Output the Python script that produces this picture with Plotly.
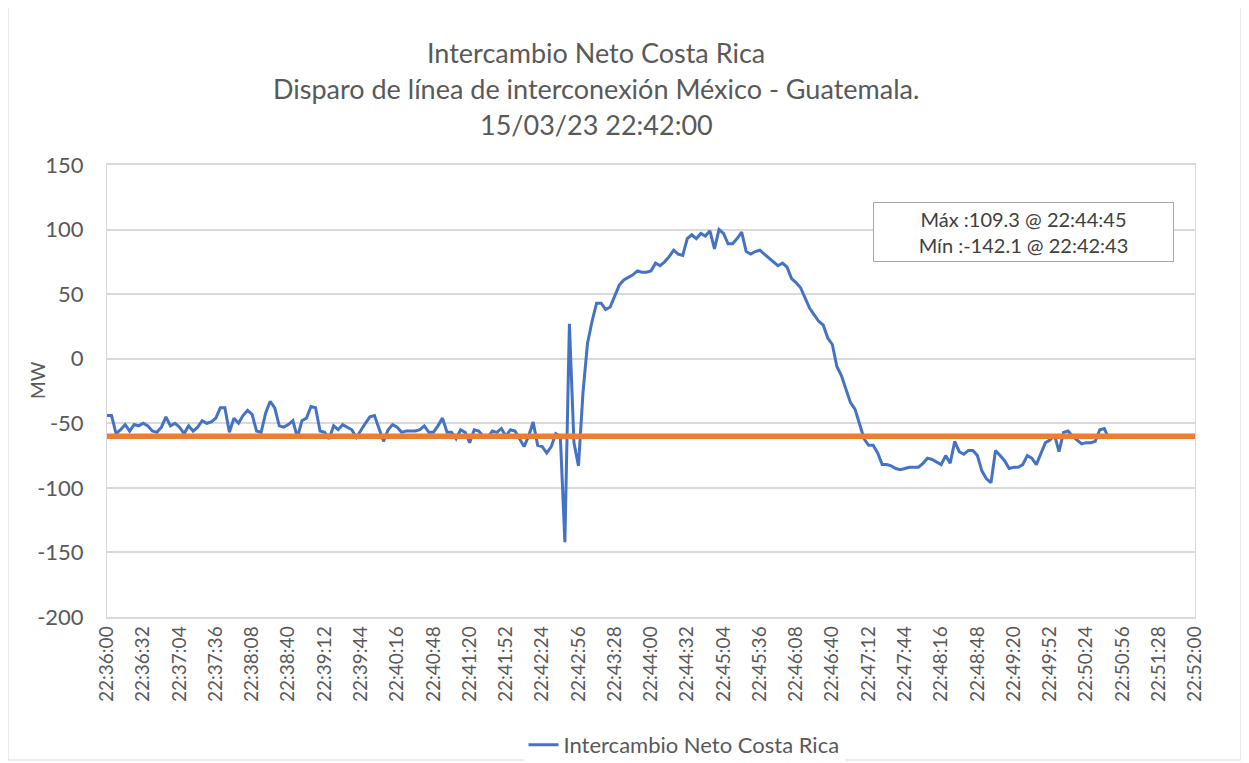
import pandas as pd
import plotly.graph_objects as go

# ---- data ----
start_time = "2023-03-15 22:36:00"
sample_step_s = 4
intercambio_mw = [
    -44, -44, -58, -55, -51, -56, -51, -52, -50, -52,
    -56, -57, -53, -45, -52, -50, -53, -58, -52, -56,
    -53, -48, -50, -49, -46, -38, -38, -57, -46, -50,
    -44, -40, -43, -56, -57, -42, -33, -38, -52, -53,
    -51, -48, -61, -48, -46, -37, -38, -56, -57, -62,
    -52, -55, -51, -53, -55, -61, -55, -50, -45, -44,
    -54, -64, -55, -51, -53, -57, -56, -56, -56, -55,
    -52, -57, -57, -52, -46, -57, -57, -62, -55, -57,
    -65, -55, -56, -60, -61, -56, -57, -54, -60, -55,
    -56, -62, -68, -60, -49, -67, -68, -73, -68, -58,
    -60, -142, 27, -65, -83, -26, 12, 29, 43, 43,
    38, 40, 49, 57, 61, 63, 65, 68, 67, 67,
    68, 74, 72, 75, 79, 84, 81, 80, 93, 96,
    93, 97, 95, 99, 85, 100, 97, 89, 89, 93,
    98, 83, 81, 83, 84, 81, 78, 75, 72, 74,
    71, 62, 59, 55, 47, 39, 34, 29, 26, 16,
    11, -6, -13, -23, -34, -39, -50, -62, -67, -67,
    -73, -82, -82, -83, -85, -86, -85, -84, -84, -84,
    -81, -77, -78, -80, -82, -75, -81, -64, -72, -74,
    -71, -71, -75, -87, -93, -96, -71, -75, -79, -85,
    -84, -84, -82, -75, -77, -82, -73, -65, -63, -59,
    -72, -57, -56, -60, -63, -66, -65, -65, -64, -55,
    -54, -62,
]
referencia_mw = -60
x_range = ["2023-03-15 22:36:00", "2023-03-15 22:52:00"]
tick_step_s = 32

title_lines = [
    "Intercambio Neto Costa Rica",
    "Disparo de línea de interconexión México - Guatemala.",
    "15/03/23 22:42:00",
]
stats_text = "Máx :109.3 @ 22:44:45<br>Mín :-142.1 @ 22:42:43"
series_name = "Intercambio Neto Costa Rica"
y_ticks = [-200, -150, -100, -50, 0, 50, 100, 150]
y_tick_text = ["-200", "-150", "-100", "-50", "0", "50", "100", "150"]

# ---- build ----
times = pd.date_range(start_time, periods=len(intercambio_mw), freq=f"{sample_step_s}s")
tick_vals = pd.date_range(x_range[0], x_range[1], freq=f"{tick_step_s}s")

FONT = "Lato"
GRAY = "#595959"

fig = go.Figure()
fig.add_trace(go.Scatter(
    x=times, y=intercambio_mw, mode="lines", name=series_name,
    line=dict(color="#4472C4", width=3),
))
fig.add_trace(go.Scatter(
    x=x_range, y=[referencia_mw, referencia_mw], mode="lines",
    line=dict(color="#ED7D31", width=5.5), showlegend=False,
))

OFF = 8  # page body margin
W, H = 1249 - OFF, 763 - OFF
PL, PR, PT, PB = 107, 1195, 165, 617  # target plot area in screenshot px
L, T = PL - OFF, PT - OFF
R = W - (PR - OFF)
B = H - (PB - OFF)
pw, ph = PR - PL, PB - PT

def px_x(p):
    return (p - PL) / pw

def px_y(p):
    return (PB - p) / ph

annotations = []
for txt, yy in zip(title_lines, [52, 89, 124]):
    annotations.append(dict(
        text=txt, x=px_x(596), y=px_y(yy), xref="paper", yref="paper",
        showarrow=False, xanchor="center", yanchor="middle",
        font=dict(family=FONT, size=27, color=GRAY),
    ))
annotations.append(dict(
    text=stats_text, x=px_x(1023), y=px_y(232), xref="paper", yref="paper",
    showarrow=False, xanchor="center", yanchor="middle", align="center",
    font=dict(family=FONT, size=20, color="#404040"),
    bordercolor="#a6a6a6", borderwidth=1, bgcolor="white",
    width=297, height=56,
))
annotations.append(dict(
    text="MW", x=px_x(37), y=px_y(380), xref="paper", yref="paper",
    showarrow=False, textangle=-90, xanchor="center", yanchor="middle",
    font=dict(family=FONT, size=19, color=GRAY),
))

fig.update_layout(
    width=W, height=H,
    margin=dict(l=L, r=R, t=T, b=B, autoexpand=False),
    paper_bgcolor="white", plot_bgcolor="white",
    font=dict(family=FONT, color=GRAY),
    annotations=annotations,
    legend=dict(orientation="h", xref="container", yref="container",
                x=(684 - OFF) / W, y=1 - (745 - OFF) / H, xanchor="center",
                yanchor="middle", font=dict(family=FONT, size=22, color=GRAY)),
    shapes=[dict(type="rect", xref="paper", yref="paper",
                 x0=px_x(8), x1=px_x(1241), y0=px_y(760), y1=px_y(4),
                 line=dict(color="#d9d9d9", width=1))],
)
fig.update_xaxes(
    range=x_range, tickvals=tick_vals, tickformat="%H:%M:%S", tickangle=-90,
    showgrid=False, showline=True, linecolor="#d9d9d9", linewidth=1.5, mirror=True,
    ticks="", tickfont=dict(family=FONT, size=19, color=GRAY), zeroline=False,
    automargin=False,
)
fig.update_yaxes(
    range=[-200, 150], tickvals=y_ticks, ticktext=y_tick_text,
    showgrid=True, gridcolor="#d9d9d9",
    gridwidth=1.5, showline=True, linecolor="#d9d9d9", mirror=True, zeroline=False,
    ticks="", tickfont=dict(family=FONT, size=22, color=GRAY),
    ticklabelstandoff=18, automargin=False,
)

fig.write_html("out.html")
